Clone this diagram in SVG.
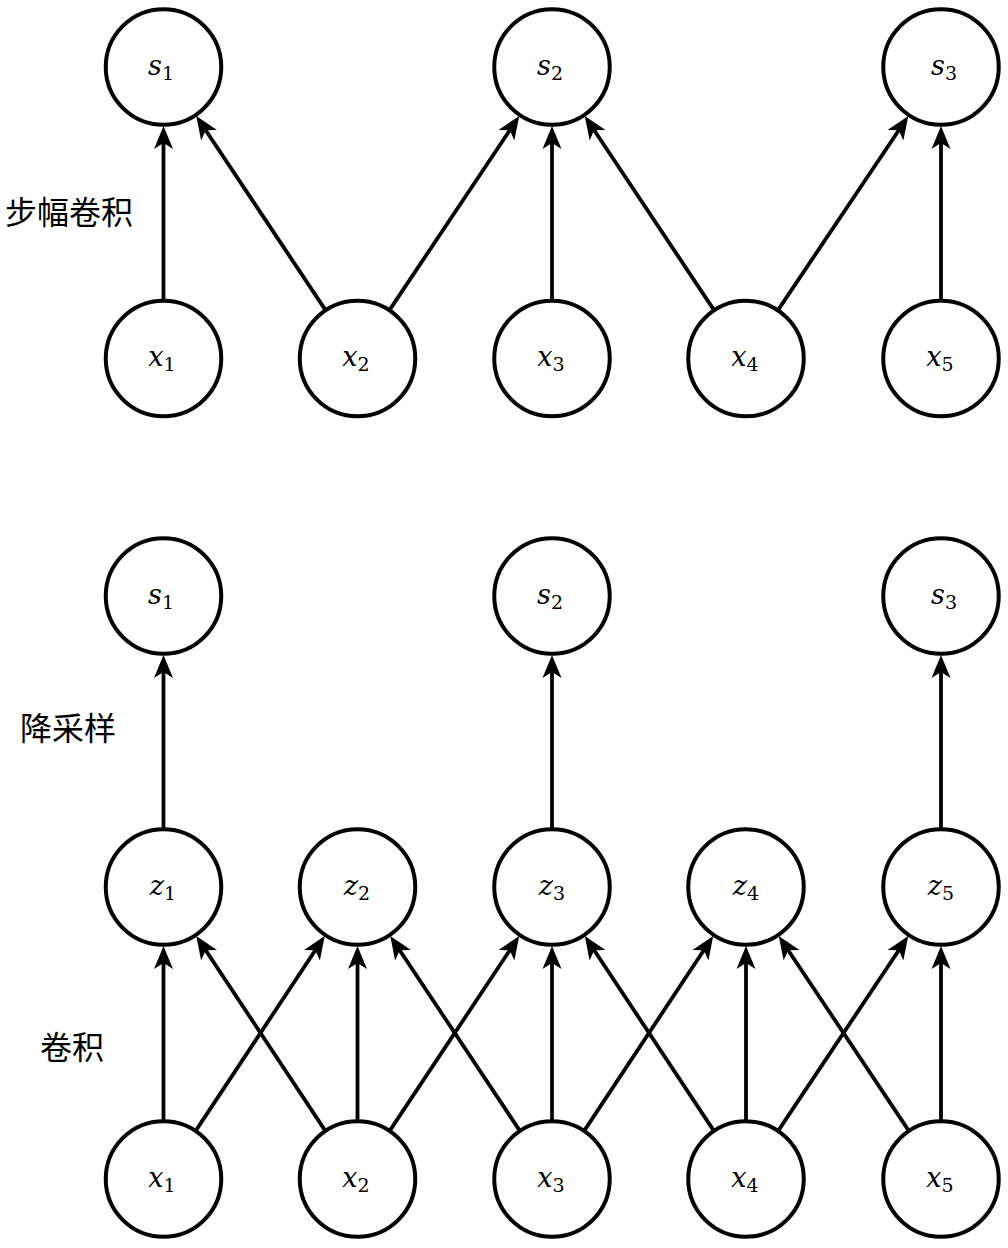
<svg xmlns="http://www.w3.org/2000/svg" width="1008" height="1248" viewBox="0 0 1008 1248">
<defs>
<marker id="arr" viewBox="0 -11 26 22" refX="6" refY="0" markerWidth="26" markerHeight="22" markerUnits="userSpaceOnUse" orient="auto">
<path d="M23,0 L0,-9.5 L6,0 L0,9.5 Z" fill="#000"/>
</marker>
</defs>
<style>
.n circle{fill:#fff;stroke:#000;stroke-width:4}
#edges line{stroke:#000;stroke-width:3.8;marker-end:url(#arr)}
.m{font-family:"DejaVu Serif","Liberation Serif",serif;font-size:27px;text-anchor:middle;fill:#000}
.i{font-style:italic}
.b{font-size:19px}
</style>
<rect width="1008" height="1248" fill="#fff"/>
<g id="edges">
<line x1="163.5" y1="301" x2="163.5" y2="143"/>
<line x1="325.85" y1="310.6" x2="205.7" y2="130.2"/>
<line x1="389.15" y1="310.6" x2="509.8" y2="130.2"/>
<line x1="552" y1="301" x2="552" y2="143"/>
<line x1="714.35" y1="310.6" x2="594.2" y2="130.2"/>
<line x1="777.65" y1="310.6" x2="898.8" y2="130.2"/>
<line x1="941" y1="301" x2="941" y2="143"/>
<line x1="163.5" y1="830" x2="163.5" y2="672"/>
<line x1="552" y1="830" x2="552" y2="672"/>
<line x1="941" y1="830" x2="941" y2="672"/>
<line x1="163.5" y1="1122" x2="163.5" y2="963"/>
<line x1="357.5" y1="1122" x2="357.5" y2="963"/>
<line x1="552" y1="1122" x2="552" y2="963"/>
<line x1="746" y1="1122" x2="746" y2="963"/>
<line x1="941" y1="1122" x2="941" y2="963"/>
<line x1="195.15" y1="1131.6" x2="315.3" y2="950.2"/>
<line x1="325.85" y1="1131.6" x2="205.7" y2="950.2"/>
<line x1="389.15" y1="1131.6" x2="509.8" y2="950.2"/>
<line x1="520.35" y1="1131.6" x2="399.7" y2="950.2"/>
<line x1="583.65" y1="1131.6" x2="703.8" y2="950.2"/>
<line x1="714.35" y1="1131.6" x2="594.2" y2="950.2"/>
<line x1="777.65" y1="1131.6" x2="898.8" y2="950.2"/>
<line x1="909.35" y1="1131.6" x2="788.2" y2="950.2"/>
</g>
<g id="top-s1" class="n"><circle cx="163.5" cy="67" r="57.75"/><text class="m" x="161" y="75"><tspan class="i">s</tspan><tspan class="b" dy="5">1</tspan></text></g>
<g id="top-s2" class="n"><circle cx="552" cy="67" r="57.75"/><text class="m" x="550" y="75"><tspan class="i">s</tspan><tspan class="b" dy="5">2</tspan></text></g>
<g id="top-s3" class="n"><circle cx="941" cy="67" r="57.75"/><text class="m" x="944" y="75"><tspan class="i">s</tspan><tspan class="b" dy="5">3</tspan></text></g>
<g id="top-x1" class="n"><circle cx="163.5" cy="358.5" r="57.75"/><text class="m" x="162" y="366"><tspan class="i">x</tspan><tspan class="b" dy="5">1</tspan></text></g>
<g id="top-x2" class="n"><circle cx="357.5" cy="358.5" r="57.75"/><text class="m" x="356" y="366"><tspan class="i">x</tspan><tspan class="b" dy="5">2</tspan></text></g>
<g id="top-x3" class="n"><circle cx="552" cy="358.5" r="57.75"/><text class="m" x="551" y="366"><tspan class="i">x</tspan><tspan class="b" dy="5">3</tspan></text></g>
<g id="top-x4" class="n"><circle cx="746" cy="358.5" r="57.75"/><text class="m" x="745" y="366"><tspan class="i">x</tspan><tspan class="b" dy="5">4</tspan></text></g>
<g id="top-x5" class="n"><circle cx="941" cy="358.5" r="57.75"/><text class="m" x="940" y="366"><tspan class="i">x</tspan><tspan class="b" dy="5">5</tspan></text></g>
<g id="bot-s1" class="n"><circle cx="163.5" cy="596" r="57.75"/><text class="m" x="161" y="604"><tspan class="i">s</tspan><tspan class="b" dy="5">1</tspan></text></g>
<g id="bot-s2" class="n"><circle cx="552" cy="596" r="57.75"/><text class="m" x="550" y="604"><tspan class="i">s</tspan><tspan class="b" dy="5">2</tspan></text></g>
<g id="bot-s3" class="n"><circle cx="941" cy="596" r="57.75"/><text class="m" x="944" y="604"><tspan class="i">s</tspan><tspan class="b" dy="5">3</tspan></text></g>
<g id="z1" class="n"><circle cx="163.5" cy="887" r="57.75"/><text class="m" x="163" y="895"><tspan class="i">z</tspan><tspan class="b" dy="5">1</tspan></text></g>
<g id="z2" class="n"><circle cx="357.5" cy="887" r="57.75"/><text class="m" x="357" y="895"><tspan class="i">z</tspan><tspan class="b" dy="5">2</tspan></text></g>
<g id="z3" class="n"><circle cx="552" cy="887" r="57.75"/><text class="m" x="552" y="895"><tspan class="i">z</tspan><tspan class="b" dy="5">3</tspan></text></g>
<g id="z4" class="n"><circle cx="746" cy="887" r="57.75"/><text class="m" x="746" y="895"><tspan class="i">z</tspan><tspan class="b" dy="5">4</tspan></text></g>
<g id="z5" class="n"><circle cx="941" cy="887" r="57.75"/><text class="m" x="941" y="895"><tspan class="i">z</tspan><tspan class="b" dy="5">5</tspan></text></g>
<g id="bot-x1" class="n"><circle cx="163.5" cy="1179" r="57.75"/><text class="m" x="162" y="1187"><tspan class="i">x</tspan><tspan class="b" dy="5">1</tspan></text></g>
<g id="bot-x2" class="n"><circle cx="357.5" cy="1179" r="57.75"/><text class="m" x="356" y="1187"><tspan class="i">x</tspan><tspan class="b" dy="5">2</tspan></text></g>
<g id="bot-x3" class="n"><circle cx="552" cy="1179" r="57.75"/><text class="m" x="551" y="1187"><tspan class="i">x</tspan><tspan class="b" dy="5">3</tspan></text></g>
<g id="bot-x4" class="n"><circle cx="746" cy="1179" r="57.75"/><text class="m" x="745" y="1187"><tspan class="i">x</tspan><tspan class="b" dy="5">4</tspan></text></g>
<g id="bot-x5" class="n"><circle cx="941" cy="1179" r="57.75"/><text class="m" x="940" y="1187"><tspan class="i">x</tspan><tspan class="b" dy="5">5</tspan></text></g>
<g id="labels" font-family="Noto Sans CJK SC, Noto Sans CJK JP, sans-serif" font-size="32" fill="#000">
<text x="5" y="224">步幅卷积</text>
<text x="20" y="740">降采样</text>
<text x="40" y="1059">卷积</text>
</g>
</svg>
